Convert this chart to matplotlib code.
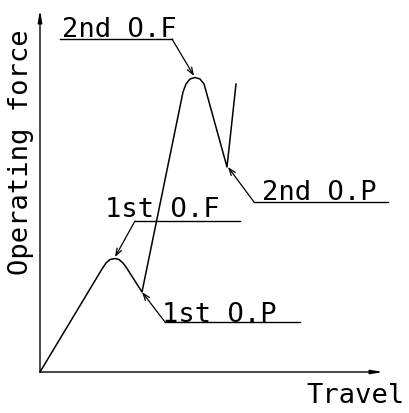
import matplotlib.pyplot as plt

# curve (travel, force), origin at the axes corner
travel = [0, 62, 66, 70, 75, 79, 83, 86, 102, 143, 146, 150, 155, 160, 164, 166, 187, 196]
force = [0, 103, 109, 112.5, 113.5, 112.5, 109, 105, 80, 280, 288, 293, 294.5, 293, 288, 281, 205, 288]

labels = ["2nd O.F", "1st O.F", "1st O.P", "2nd O.P"]
# point each label points at
tips = [(154, 296), (75, 115), (102, 80), (188, 205)]
# shelf line under each label: x start, x end, y
shelves = [(132, 20, 333), (95, 200, 151), (125, 260, 50), (214, 348, 170)]
text_pos = [(22, 336), (65, 156), (122, 51), (222, 173)]

mono = "DejaVu Sans Mono"
fs = 19.5

fig = plt.figure(figsize=(4.10, 4.14), dpi=100)
ax = fig.add_axes([0, 0, 1, 1])
ax.set_xlim(-40, 370)
ax.set_ylim(-41, 373)
ax.axis("off")

# axes with arrows
ax.annotate("", xy=(343, 0), xytext=(0, 0),
            arrowprops=dict(arrowstyle="-|>,head_length=0.7,head_width=0.12",
                            lw=1.0, color="black", shrinkA=0, shrinkB=0))
ax.annotate("", xy=(0, 362), xytext=(0, 0),
            arrowprops=dict(arrowstyle="-|>,head_length=0.7,head_width=0.12",
                            lw=1.0, color="black", shrinkA=0, shrinkB=0))

ax.plot(travel, force, color="black", lw=1.1)

for lab, tip, sh, tp in zip(labels, tips, shelves, text_pos):
    x0, x1, y = sh
    ax.plot([x0, x1], [y, y], color="black", lw=1.0)
    ax.annotate("", xy=tip, xytext=(x0, y),
                arrowprops=dict(arrowstyle="->,head_length=0.5,head_width=0.18",
                                lw=0.9, color="black", shrinkA=0, shrinkB=0))
    ax.text(tp[0], tp[1], lab, family=mono, fontsize=fs, va="baseline", ha="left")

ax.text(365, -30, "Travel", family=mono, fontsize=fs, va="baseline", ha="right")
ax.text(-19, 221, "Operating force", family=mono, fontsize=fs, rotation=90,
        va="center", ha="center")

plt.savefig("out.png", dpi=100)
